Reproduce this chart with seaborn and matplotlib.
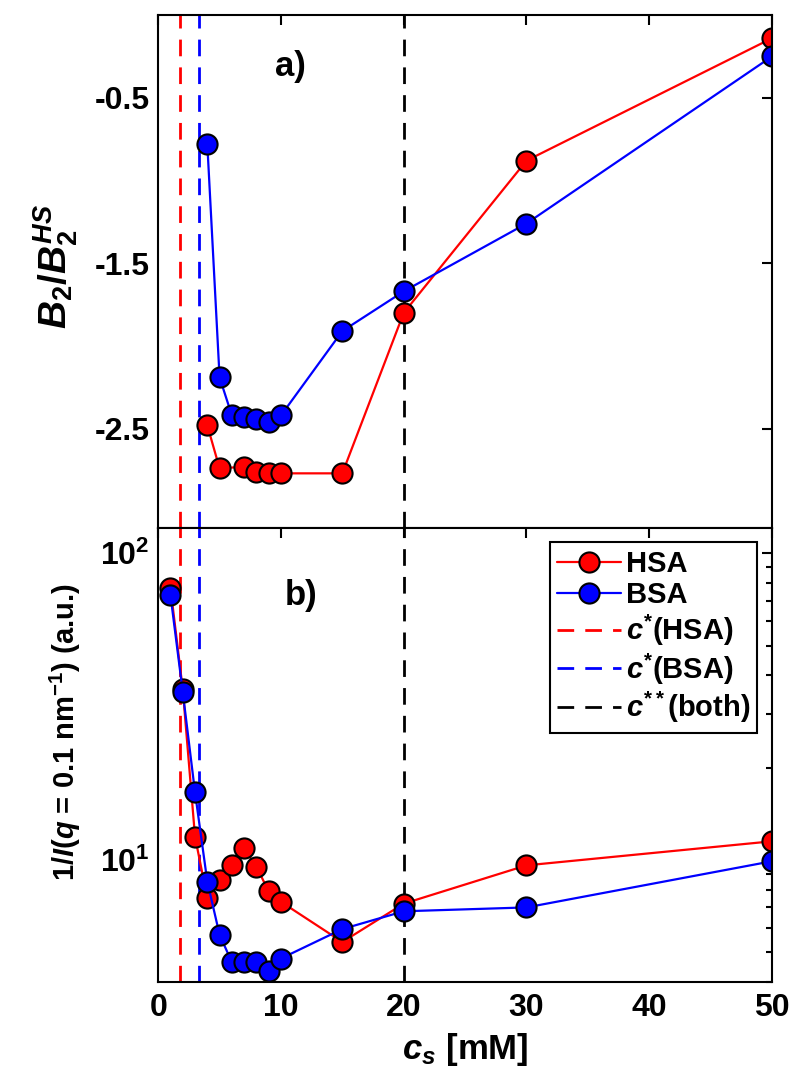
import numpy as np
import matplotlib
matplotlib.use("Agg")
import matplotlib.pyplot as plt
from matplotlib.lines import Line2D
from matplotlib.ticker import FuncFormatter, LogLocator, NullFormatter
import seaborn as sns

# panel a) second virial coefficient
cs_b2_hsa = [4, 5, 7, 8, 9, 10, 15, 20, 30, 50]
b2_hsa = [-2.48, -2.74, -2.73, -2.76, -2.77, -2.77, -2.77, -1.80, -0.88, -0.14]
cs_b2_bsa = [4, 5, 6, 7, 8, 9, 10, 15, 20, 30, 50]
b2_bsa = [-0.78, -2.19, -2.42, -2.43, -2.44, -2.46, -2.42, -1.91, -1.67, -1.26, -0.25]

# panel b) inverse low-q intensity
cs_inv_hsa = [1, 2, 3, 4, 5, 6, 7, 8, 9, 10, 15, 20, 30, 50]
inv_hsa = [77, 36, 11.9, 7.5, 8.6, 9.6, 10.9, 9.5, 7.9, 7.3, 5.4, 7.2, 9.6, 11.5]
cs_inv_bsa = [1, 2, 3, 4, 5, 6, 7, 8, 9, 10, 15, 20, 30, 50]
inv_bsa = [73, 35.3, 16.6, 8.5, 5.7, 4.64, 4.64, 4.64, 4.33, 4.77, 5.95, 6.8, 7.0, 9.9]

# critical salt concentrations
c_star_hsa = 1.8
c_star_bsa = 3.3
c_2star = 20

RED = "#ff0000"
BLUE = "#0000ff"
TICK_FS = 23

sns.set_style("white")
plt.rcParams.update({
    "font.family": ["Liberation Sans", "DejaVu Sans"],
    "font.weight": "bold",
    "axes.labelweight": "bold",
    "axes.unicode_minus": False,
    "axes.edgecolor": "black",
    "axes.labelcolor": "black",
    "text.color": "black",
    "axes.linewidth": 1.5,
    "mathtext.fontset": "custom",
    "mathtext.rm": "Liberation Sans:bold",
    "mathtext.it": "Liberation Sans:bold:italic",
    "mathtext.bf": "Liberation Sans:bold",
    "xtick.color": "black",
    "ytick.color": "black",
})

fig = plt.figure(figsize=(7.91, 10.89), dpi=100)
ax1 = fig.add_axes([0.2, 0.5152, 0.776, 0.471])
ax2 = fig.add_axes([0.2, 0.0983, 0.776, 0.417], sharex=ax1)

dash = (0, (6, 4))
for ax in (ax1, ax2):
    ax.axvline(c_star_hsa, color=RED, ls=dash, lw=2)
    ax.axvline(c_star_bsa, color=BLUE, ls=dash, lw=2)
    ax.axvline(c_2star, color="black", ls=dash, lw=2)

mk = dict(marker="o", ms=14.5, mec="black", mew=1.5, lw=1.6, legend=False)
sns.lineplot(x=cs_b2_hsa, y=b2_hsa, ax=ax1, color=RED, **mk)
sns.lineplot(x=cs_b2_bsa, y=b2_bsa, ax=ax1, color=BLUE, **mk)
sns.lineplot(x=cs_inv_hsa, y=inv_hsa, ax=ax2, color=RED, **mk)
sns.lineplot(x=cs_inv_bsa, y=inv_bsa, ax=ax2, color=BLUE, **mk)

# top panel
ax1.set_xlim(0, 50)
ax1.set_xticks(np.arange(0, 51, 10))
ax1.set_ylim(-3.1, 0)
ax1.set_yticks([-2.5, -1.5, -0.5])
ax1.set_yticklabels(["-2.5", "-1.5", "-0.5"])
ax1.set_ylabel(r"$B_2/B_2^{HS}$", fontsize=28)
ax1.yaxis.set_label_coords(-0.128, 0.51)
ax1.text(0.215, 0.90, "a)", transform=ax1.transAxes, fontsize=25,
         fontweight="bold", ha="center", va="center")

# bottom panel
ax2.set_yscale("log")
ax2.set_ylim(4, 121)
ax2.yaxis.set_major_locator(LogLocator(base=10))
ax2.yaxis.set_minor_locator(LogLocator(base=10, subs=np.arange(2, 10)))
ax2.yaxis.set_major_formatter(FuncFormatter(lambda v, p: r"$10^{%d}$" % round(np.log10(v))))
ax2.yaxis.set_minor_formatter(NullFormatter())
ax2.set_xlabel(r"$c_s$ [mM]", fontsize=25, labelpad=6)
ax2.set_ylabel(r"1/$I$($q$ = 0.1 nm$^{-1}$) (a.u.)", fontsize=21)
ax2.yaxis.set_label_coords(-0.122, 0.55)
ax2.text(0.233, 0.852, "b)", transform=ax2.transAxes, fontsize=25,
         fontweight="bold", ha="center", va="center")

for ax in (ax1, ax2):
    ax.tick_params(which="both", direction="in", top=True, right=True,
                   labelsize=TICK_FS, width=1.5)
    ax.tick_params(which="major", length=7)
    ax.tick_params(which="minor", length=4)
    ax.tick_params(axis="x", pad=8)
    ax.tick_params(axis="y", pad=6)
    ax.grid(False)
ax1.tick_params(labelbottom=False)

handles = [
    Line2D([], [], color=RED, marker="o", ms=14.5, mec="black", mew=1.5, lw=1.6, label="HSA"),
    Line2D([], [], color=BLUE, marker="o", ms=14.5, mec="black", mew=1.5, lw=1.6, label="BSA"),
    Line2D([], [], color=RED, ls=dash, lw=2, label=r"$c^{*}$(HSA)"),
    Line2D([], [], color=BLUE, ls=dash, lw=2, label=r"$c^{*}$(BSA)"),
    Line2D([], [], color="black", ls=dash, lw=2, label=r"$c^{**}$(both)"),
]
leg = ax2.legend(handles=handles, loc="upper right", fontsize=21, frameon=True,
                 fancybox=False, edgecolor="black", framealpha=1,
                 handlelength=2.2, handletextpad=0.15, labelspacing=0.12,
                 borderaxespad=0.5, borderpad=0.25)
leg.get_frame().set_linewidth(1.5)

fig.savefig("out.png", dpi=100)
